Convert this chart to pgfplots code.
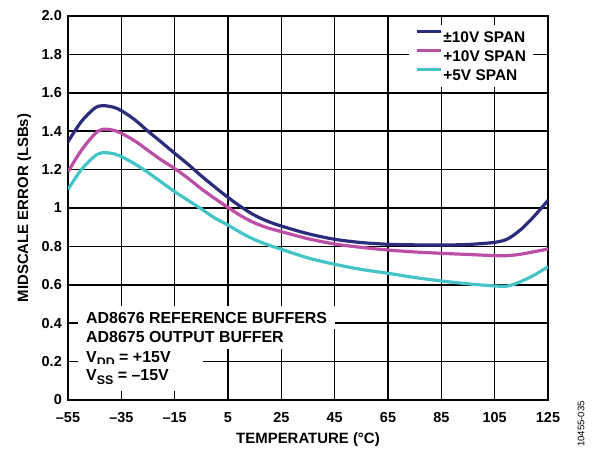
\documentclass[border=0pt]{standalone}
\usepackage{pgfplots}
\pgfplotsset{compat=1.18}
\usepackage{fontspec}
\setmainfont{Liberation Sans}
\definecolor{cnavy}{HTML}{2B2C7C}
\definecolor{cmag}{HTML}{BD4EA6}
\definecolor{ccyan}{HTML}{45C4C8}
\begin{document}
\begin{tikzpicture}
\useasboundingbox (-68bp,-50bp) rectangle (531bp,400bp);
\begin{axis}[
  at={(0,0)}, anchor=south west,
  width=480bp, height=384bp, scale only axis,
  xmin=-55, xmax=125, ymin=0, ymax=2,
  xtick={-55,-35,-15,5,25,45,65,85,105,125},
  xticklabels={–55,–35,–15,5,25,45,65,85,105,125},
  ytick={0,0.2,0.4,0.6,0.8,1,1.2,1.4,1.6,1.8,2},
  yticklabels={0,0.2,0.4,0.6,0.8,1,1.2,1.4,1.6,1.8,2.0},
  grid=major,
  grid style={draw=black, line width=1.5bp},
  major grid style={draw=black, line width=1.5bp},
  axis line style={black, line width=2bp},
  tick style={draw=none},
  tick label style={font=\fontsize{14.5}{16}\selectfont\bfseries, inner sep=0pt},
  xticklabel style={anchor=base, yshift=-22bp},
  yticklabel style={anchor=east, xshift=-6bp},
  xlabel={TEMPERATURE (°C)},
  ylabel={MIDSCALE ERROR (LSBs)},
  xlabel style={at={(axis description cs:0.5,-0.112)}, anchor=base, inner sep=0pt, font=\fontsize{15}{17}\selectfont\bfseries},
  ylabel style={at={(axis description cs:-0.0833,0.5)}, anchor=base, inner sep=0pt, font=\fontsize{15}{17}\selectfont\bfseries},
  legend style={
    at={(axis description cs:0.969,0.977)}, anchor=north east,
    fill=white, draw=none,
    inner xsep=6bp, inner ysep=5bp,
    font=\fontsize{15.5}{17}\selectfont\bfseries,
    row sep=5.5bp,
    nodes={inner sep=1bp, text height=11.5bp, text depth=0bp},
  },
  legend cell align=left,
  legend image code/.code={\draw[#1, line width=3bp] (0bp,5bp) -- (24bp,5bp);},
]
\addplot[cnavy, line width=3.2bp, smooth] coordinates {
(-55,1.345) (-50,1.45) (-45,1.52) (-42,1.533) (-38,1.525) (-35,1.507)
(-30,1.46) (-25,1.40) (-20,1.343) (-15,1.285) (-10,1.228) (-5,1.167)
(0,1.11) (5,1.055) (10,1.005) (15,0.962) (20,0.93) (25,0.906)
(35,0.866) (45,0.837) (55,0.82) (65,0.811) (75,0.808) (85,0.807)
(95,0.81) (105,0.821) (110,0.84) (115,0.89) (120,0.96) (125,1.04)
};
\addlegendentry{±10V SPAN}
\addplot[cmag, line width=3.2bp, smooth] coordinates {
(-55,1.189) (-50,1.30) (-45,1.385) (-42,1.41) (-38,1.405) (-35,1.389)
(-30,1.35) (-25,1.30) (-20,1.25) (-15,1.206) (-10,1.155) (-5,1.10)
(0,1.05) (5,1.003) (10,0.958) (15,0.922) (20,0.896) (25,0.877)
(35,0.84) (45,0.8125) (55,0.795) (65,0.781) (75,0.771) (85,0.764)
(95,0.758) (105,0.752) (110,0.752) (115,0.76) (120,0.773) (125,0.786)
};
\addlegendentry{+10V SPAN}
\addplot[ccyan, line width=3.2bp, smooth] coordinates {
(-55,1.097) (-50,1.20) (-45,1.27) (-42,1.288) (-38,1.283) (-35,1.268)
(-30,1.23) (-25,1.185) (-20,1.135) (-15,1.085) (-10,1.04) (-5,0.995)
(0,0.948) (5,0.911) (10,0.87) (15,0.835) (20,0.808) (25,0.785)
(35,0.74) (45,0.707) (55,0.68) (65,0.66) (75,0.638) (85,0.62)
(95,0.605) (105,0.594) (110,0.594) (115,0.618) (120,0.652) (125,0.694)
};
\addlegendentry{+5V SPAN}
\begin{scope}[every node/.style={fill=white, inner xsep=8bp, inner ysep=6bp, anchor=base west, font=\fontsize{16}{18}\selectfont\bfseries}]
\node at (axis description cs:0.02083,0.1997) {AD8676 REFERENCE BUFFERS};
\node at (axis description cs:0.02083,0.1492) {AD8675 OUTPUT BUFFER};
\node at (axis description cs:0.02083,0.0971) {\makebox[109bp][l]{V\raisebox{-0.25em}{\fontsize{12.5}{13}\selectfont DD} = +15V}};
\node at (axis description cs:0.02083,0.0495) {\makebox[109bp][l]{V\raisebox{-0.25em}{\fontsize{12.5}{13}\selectfont SS} = –15V}};
\end{scope}
\end{axis}
\node[rotate=90, anchor=east, inner sep=0pt, font=\fontsize{9.6}{11}\selectfont] at (513bp,-1bp) {10455-035};
\end{tikzpicture}
\end{document}
